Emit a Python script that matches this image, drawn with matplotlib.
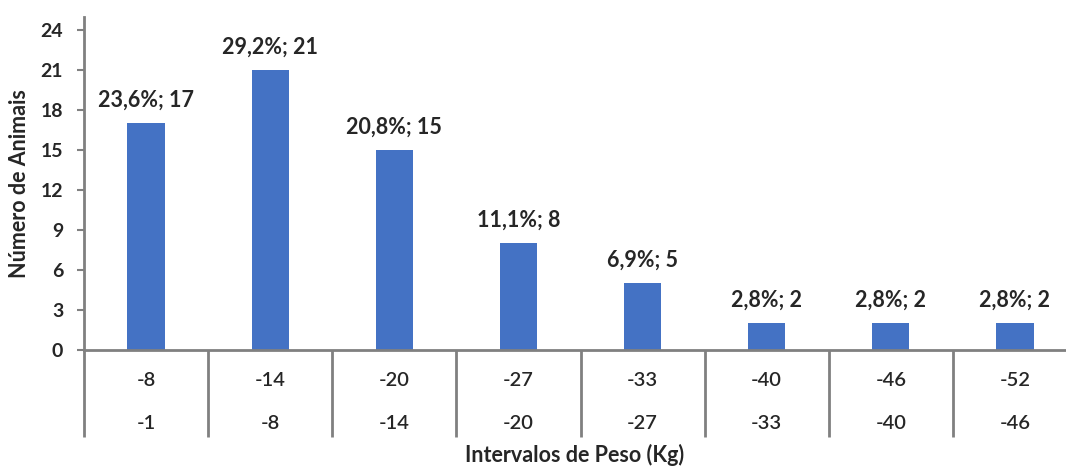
import matplotlib
matplotlib.use('Agg')
import matplotlib.pyplot as plt
import matplotlib.transforms as mtransforms

# dados do histograma
upper = ['-8', '-14', '-20', '-27', '-33', '-40', '-46', '-52']
lower = ['-1', '-8', '-14', '-20', '-27', '-33', '-40', '-46']
counts = [17, 21, 15, 8, 5, 2, 2, 2]
pcts = ['23,6%', '29,2%', '20,8%', '11,1%', '6,9%', '2,8%', '2,8%', '2,8%']

plt.rcParams['font.family'] = ['Lato', 'DejaVu Sans']
gray = '#808080'
txt = '#262626'

fig = plt.figure(figsize=(10.66, 4.68), dpi=100)
ax = fig.add_axes([84 / 1066, 118 / 468, 993 / 1066, 333.3 / 468])

x = list(range(len(counts)))
bars = ax.bar(x, counts, width=0.30, color='#4472C4', zorder=2)

for b, p, c in zip(bars, pcts, counts):
    ax.annotate('%s; %d' % (p, c), (b.get_x() + b.get_width() / 2, b.get_height()),
                xytext=(0, 9), textcoords='offset points', ha='center', va='bottom',
                fontsize=15.5, fontweight='bold', color=txt)

ax.set_xlim(-0.5, len(counts) - 0.5)
ax.set_ylim(0, 25)
ax.set_yticks(range(0, 25, 3))
ax.tick_params(axis='y', direction='out', length=5, width=1.5, color=gray,
               labelsize=14, labelcolor=txt, pad=10)
for lab in ax.get_yticklabels():
    lab.set_fontweight('bold')
ax.set_xticks([])

for s in ['top', 'right']:
    ax.spines[s].set_visible(False)
for s in ['left', 'bottom']:
    ax.spines[s].set_color(gray)
    ax.spines[s].set_linewidth(2)

# divisorias das categorias e rotulos em duas linhas
trans = mtransforms.blended_transform_factory(ax.transData, ax.transAxes)
for i in range(len(counts) + 1):
    ax.plot([i - 0.5, i - 0.5], [0, -0.261], transform=trans, color=gray,
            lw=2, clip_on=False, solid_capstyle='butt')
for i in x:
    ax.text(i, -0.092, upper[i], transform=trans, ha='center', va='center',
            fontsize=14.5, color=txt, fontweight='semibold')
    ax.text(i, -0.222, lower[i], transform=trans, ha='center', va='center',
            fontsize=14.5, color=txt, fontweight='semibold')

fig.text(575 / 1066, 1 - 455 / 468, 'Intervalos de Peso (Kg)', ha='center', va='center',
         fontsize=15.5, fontweight='bold', color=txt)
fig.text(20 / 1066, 1 - 184 / 468, 'Número de Animais', ha='center', va='center',
         rotation=90, fontsize=15.5, fontweight='bold', color=txt)

fig.savefig('out.png', dpi=100)
